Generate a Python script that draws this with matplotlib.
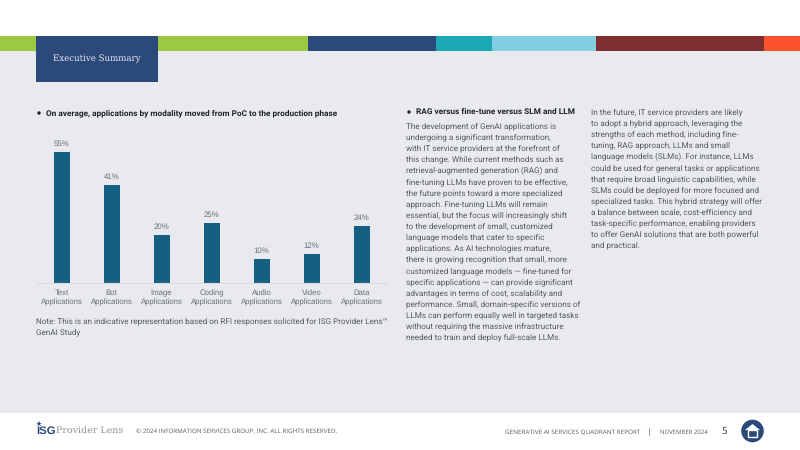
import matplotlib
matplotlib.use("Agg")
import matplotlib.pyplot as plt
from matplotlib.patches import Rectangle, Circle, Polygon

plt.rcParams["text.hinting"] = "none"

# chart data
categories = ["Text\nApplications", "Bot\nApplications", "Image\nApplications", "Coding\nApplications",
              "Audio\nApplications", "Video\nApplications", "Data\nApplications"]
values = [55, 41, 20, 25, 10, 12, 24]

# coloured strip along the top: start, end, colour
strip_edges = [0, 308, 436, 492, 596, 764, 800]
strip_colors = ["#9BC943", "#2B4A7A", "#1BA8B5", "#82CFE4", "#7D2F2F", "#F9512B"]

col2_lines = [
    "The development of GenAI applications is",
    "undergoing a significant transformation,",
    "with IT service providers at the forefront of",
    "this change. While current methods such as",
    "retrieval-augmented generation (RAG) and",
    "fine-tuning LLMs have proven to be effective,",
    "the future points toward a more specialized",
    "approach. Fine-tuning LLMs will remain",
    "essential, but the focus will increasingly shift",
    "to the development of small, customized",
    "language models that cater to specific",
    "applications. As AI technologies mature,",
    "there is growing recognition that small, more",
    "customized language models \u2014 fine-tuned for",
    "specific applications \u2014 can provide significant",
    "advantages in terms of cost, scalability and",
    "performance. Small, domain-specific versions of",
    "LLMs can perform equally well in targeted tasks",
    "without requiring the massive infrastructure",
    "needed to train and deploy full-scale LLMs.",
]
col3_lines = [
    "In the future, IT service providers are likely",
    "to adopt a hybrid approach, leveraging the",
    "strengths of each method, including fine-",
    "tuning, RAG approach, LLMs and small",
    "language models (SLMs). For instance, LLMs",
    "could be used for general tasks or applications",
    "that require broad linguistic capabilities, while",
    "SLMs could be deployed for more focused and",
    "specialized tasks. This hybrid strategy will offer",
    "a balance between scale, cost-efficiency and",
    "task-specific performance, enabling providers",
    "to offer GenAI solutions that are both powerful",
    "and practical.",
]

BODY = "Roboto"
NAVY = "#2B4A7A"
BG = "#E8EAEE"
GREY = "#55595E"

fig = plt.figure(figsize=(8, 4.5), dpi=100, facecolor="white")

# page layer in pixel coordinates
page = fig.add_axes([0, 0, 1, 1])
page.set_xlim(0, 800)
page.set_ylim(450, 0)
page.axis("off")

page.add_patch(Rectangle((0, 36), 800, 377, color=BG, lw=0))
for i, c in enumerate(strip_colors):
    page.add_patch(Rectangle((strip_edges[i], 36), strip_edges[i + 1] - strip_edges[i], 15, color=c, lw=0))
page.add_patch(Rectangle((36, 36), 122, 46, color=NAVY, lw=0))
page.text(53, 59, "Executive Summary", family="DejaVu Serif", fontsize=6.2, color="#E4E9F2", va="center")

# headings
page.add_patch(Circle((39, 113), 1.7, color="#1E2226", lw=0))
page.text(46.5, 113, "On average, applications by modality moved from PoC to the production phase",
          family=BODY, fontsize=5.97, fontweight="bold", color="#1E2226", va="center")
page.add_patch(Circle((409, 112), 1.7, color="#1E2226", lw=0))
page.text(416, 112, "RAG versus fine-tune versus SLM and LLM",
          family=BODY, fontsize=5.97, fontweight="bold", color="#1E2226", va="center")

# text columns
for i, line in enumerate(col2_lines):
    page.text(406, 126 + i * 11.13, line, family=BODY, fontsize=5.82, color=GREY, va="center")
for i, line in enumerate(col3_lines):
    page.text(591, 112 + i * 11.13, line, family=BODY, fontsize=5.82, color=GREY, va="center")

page.text(36.5, 321, "Note: This is an indicative representation based on RFI responses solicited for ISG Provider Lens\u2122",
          family=BODY, fontsize=5.84, color=GREY, va="center")
page.text(36.5, 332, "GenAI Study", family=BODY, fontsize=5.84, color=GREY, va="center")

# footer
page.plot([38.5], [423.5], marker="*", ms=4, color=NAVY, mew=0)
page.text(36, 431, "ISG", family="Liberation Sans", fontsize=8.2, fontweight="bold", color=NAVY, va="center")
page.text(56.5, 430.5, "Provider Lens", family="DejaVu Serif", fontsize=6.8, color="#8A8F96", va="center")
page.text(136, 432, "\u00a9 2024 INFORMATION SERVICES GROUP, INC. ALL RIGHTS RESERVED.",
          family="Open Sans", fontsize=4.47, color=GREY, va="center")
page.text(505, 432, "GENERATIVE AI SERVICES QUADRANT REPORT", family="Open Sans", fontsize=4.57, color=GREY, va="center")
page.text(649.5, 431.5, "|", family="Open Sans", fontsize=6, color=GREY, va="center", ha="center")
page.text(660, 432, "NOVEMBER 2024", family="Open Sans", fontsize=4.35, color=GREY, va="center")
page.text(724, 431.5, "5", family="Open Sans", fontsize=7, color="#33373B", va="center", ha="center")

page.add_patch(Circle((752.5, 431), 11.3, color=NAVY, lw=0))
page.add_patch(Polygon([(745, 430), (752.5, 424), (760, 430)], closed=True, color="white", lw=0))
page.add_patch(Rectangle((748, 430), 9, 7, fill=False, ec="white", lw=1))

# bar chart
ax = fig.add_axes([36.5 / 800, 1 - 282.5 / 450, 350 / 800, 130.5 / 450])
ax.patch.set_alpha(0)
bars = ax.bar(range(len(values)), values, width=0.32, color="#156082")
ax.set_xlim(-0.5, 6.5)
ax.set_ylim(0, 55)
ax.set_yticks([])
ax.set_xticks(range(len(values)))
ax.set_xticklabels(categories, family="Liberation Sans", fontsize=5.55, color="#6A6E73", linespacing=1.25)
ax.tick_params(axis="x", length=0, pad=5)
for s in ["top", "left", "right"]:
    ax.spines[s].set_visible(False)
ax.spines["bottom"].set_color("#DADCE0")
for b, v in zip(bars, values):
    ax.annotate(f"{v}%", (b.get_x() + b.get_width() / 2, v), xytext=(0, 3), textcoords="offset points",
                ha="center", va="bottom", family="Liberation Sans", fontsize=5.7, color="#6A6E73", annotation_clip=False)

fig.savefig("out.png", dpi=100)
